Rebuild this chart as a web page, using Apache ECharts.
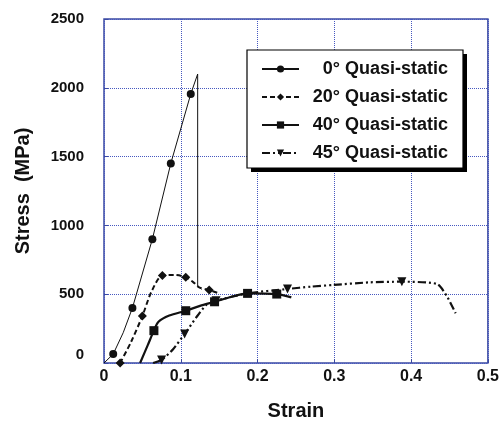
<!DOCTYPE html>
<html>
<head>
<meta charset="utf-8">
<script src="https://cdn.jsdelivr.net/npm/echarts@6/dist/echarts.min.js"></script>
<style>
  html, body { margin: 0; padding: 0; background: #fff; }
  #chart { width: 502px; height: 426px; }
</style>
</head>
<body>
<div id="chart"></div>
<script>
// [strain, stress, marker?]
const deg0 = [
  [0, 0, 0], [0.012, 65, 1], [0.025, 220, 0], [0.037, 400, 1], [0.063, 900, 1],
  [0.087, 1450, 1], [0.113, 1955, 1], [0.122, 2100, 0], [0.122, 560, 0], [0.127, 535, 0]
];
const deg20 = [
  [0.021, 0, 1], [0.035, 150, 0], [0.050, 342, 1], [0.062, 520, 0], [0.076, 635, 1],
  [0.092, 640, 0], [0.1065, 623, 1], [0.118, 580, 0], [0.124, 550, 0], [0.137, 530, 1], [0.150, 505, 0]
];
const deg40 = [
  [0.047, 0, 0], [0.057, 130, 0], [0.065, 235, 1], [0.071, 300, 0], [0.085, 345, 0],
  [0.1065, 380, 1], [0.125, 415, 0], [0.144, 445, 1], [0.165, 480, 0], [0.187, 506, 1],
  [0.225, 501, 1], [0.244, 477, 0]
];
const deg45 = [
  [0.064, 0, 0], [0.075, 22, 1], [0.090, 100, 0], [0.105, 211, 1], [0.120, 330, 0],
  [0.133, 421, 0], [0.146, 453, 1], [0.187, 506, 0], [0.239, 538, 1], [0.270, 555, 0],
  [0.298, 567, 0], [0.345, 586, 0], [0.388, 591, 1], [0.434, 574, 0], [0.447, 482, 0], [0.458, 361, 0]
];
const seriesNames = ['0° Quasi-static', '20° Quasi-static', '40° Quasi-static', '45° Quasi-static'];
const xTicks = [0, 0.1, 0.2, 0.3, 0.4, 0.5];
const yTicks = [0, 500, 1000, 1500, 2000, 2500];

const toData = arr => arr.map(p => p[2] ? [p[0], p[1]] : { value: [p[0], p[1]], symbol: 'none' });

const frame = '#3b4aa3';
const gridColor = '#4658c0';

let myChart = echarts.init(document.getElementById('chart'));
myChart.setOption({
  animation: false,
  textStyle: { fontFamily: 'Liberation Sans, Arial, sans-serif' },
  grid: {
    left: 104, right: 13, top: 19, bottom: 63,
    show: true, borderColor: frame, borderWidth: 1.5
  },
  graphic: [{
    // legend drop shadow
    type: 'rect', left: 251, top: 54, z: 5,
    shape: { width: 216, height: 118 },
    style: { fill: '#000' }
  }],
  legend: {
    data: seriesNames,
    orient: 'vertical',
    left: 247, top: 50, z: 10,
    padding: [10, 15, 6, 14],
    itemWidth: 37, itemHeight: 9, itemGap: 10, itemTextGap: 10,
    backgroundColor: '#fff',
    borderColor: '#000', borderWidth: 1.2,
    formatter: '{t|{name}}',
    textStyle: {
      color: '#111',
      rich: { t: { fontSize: 18, fontWeight: 'bold', width: 144, align: 'right', lineHeight: 18,
        fontFamily: 'Liberation Sans, Arial, sans-serif', color: '#111' } }
    }
  },
  xAxis: {
    type: 'value', min: 0, max: 0.5, interval: 0.1,
    name: 'Strain', nameLocation: 'middle', nameGap: 38,
    nameTextStyle: { fontSize: 20, fontWeight: 'bold', color: '#111' },
    axisLine: { show: false },
    axisTick: { inside: true, length: 4, lineStyle: { color: frame } },
    axisLabel: { fontSize: 16, fontWeight: 'bold', color: '#111', margin: 6,
      formatter: v => xTicks.includes(+v.toFixed(1)) ? String(+v.toFixed(1)) : '' },
    splitLine: { lineStyle: { color: gridColor, type: 'dotted', width: 1 } }
  },
  yAxis: {
    type: 'value', min: 0, max: 2500, interval: 500,
    name: 'Stress  (MPa)', nameLocation: 'middle', nameGap: 71,
    nameTextStyle: { fontSize: 20, fontWeight: 'bold', color: '#111' },
    axisLine: { show: false },
    axisTick: { inside: true, length: 4, lineStyle: { color: frame } },
    axisLabel: { fontSize: 15, fontWeight: 'bold', color: '#111', margin: 20,
      formatter: v => v === 0 ? '{z|0}' : (yTicks.includes(v) ? String(v) : ''),
      rich: { z: { fontSize: 15, fontWeight: 'bold', color: '#111', padding: [0, 0, 16, 0],
        fontFamily: 'Liberation Sans, Arial, sans-serif' } } },
    splitLine: { lineStyle: { color: gridColor, type: 'dotted', width: 1 } }
  },
  series: [
    {
      name: seriesNames[0], type: 'line', data: toData(deg0),
      symbol: 'circle', symbolSize: 8,
      lineStyle: { color: '#111', width: 1 }, itemStyle: { color: '#111' }
    },
    {
      name: seriesNames[1], type: 'line', data: toData(deg20), smooth: 0.3,
      symbol: 'diamond', symbolSize: 9,
      lineStyle: { color: '#111', width: 2, type: [5, 3] }, itemStyle: { color: '#111' }
    },
    {
      name: seriesNames[2], type: 'line', data: toData(deg40), smooth: 0.3,
      symbol: 'rect', symbolSize: 9,
      lineStyle: { color: '#111', width: 2.2 }, itemStyle: { color: '#111' }
    },
    {
      name: seriesNames[3], type: 'line', data: toData(deg45), smooth: 0.2,
      symbol: 'triangle', symbolRotate: 180, symbolSize: 9,
      lineStyle: { color: '#111', width: 2.2, type: [8, 3, 2, 3, 2, 3] }, itemStyle: { color: '#111' }
    }
  ]
});
</script>
</body>
</html>
